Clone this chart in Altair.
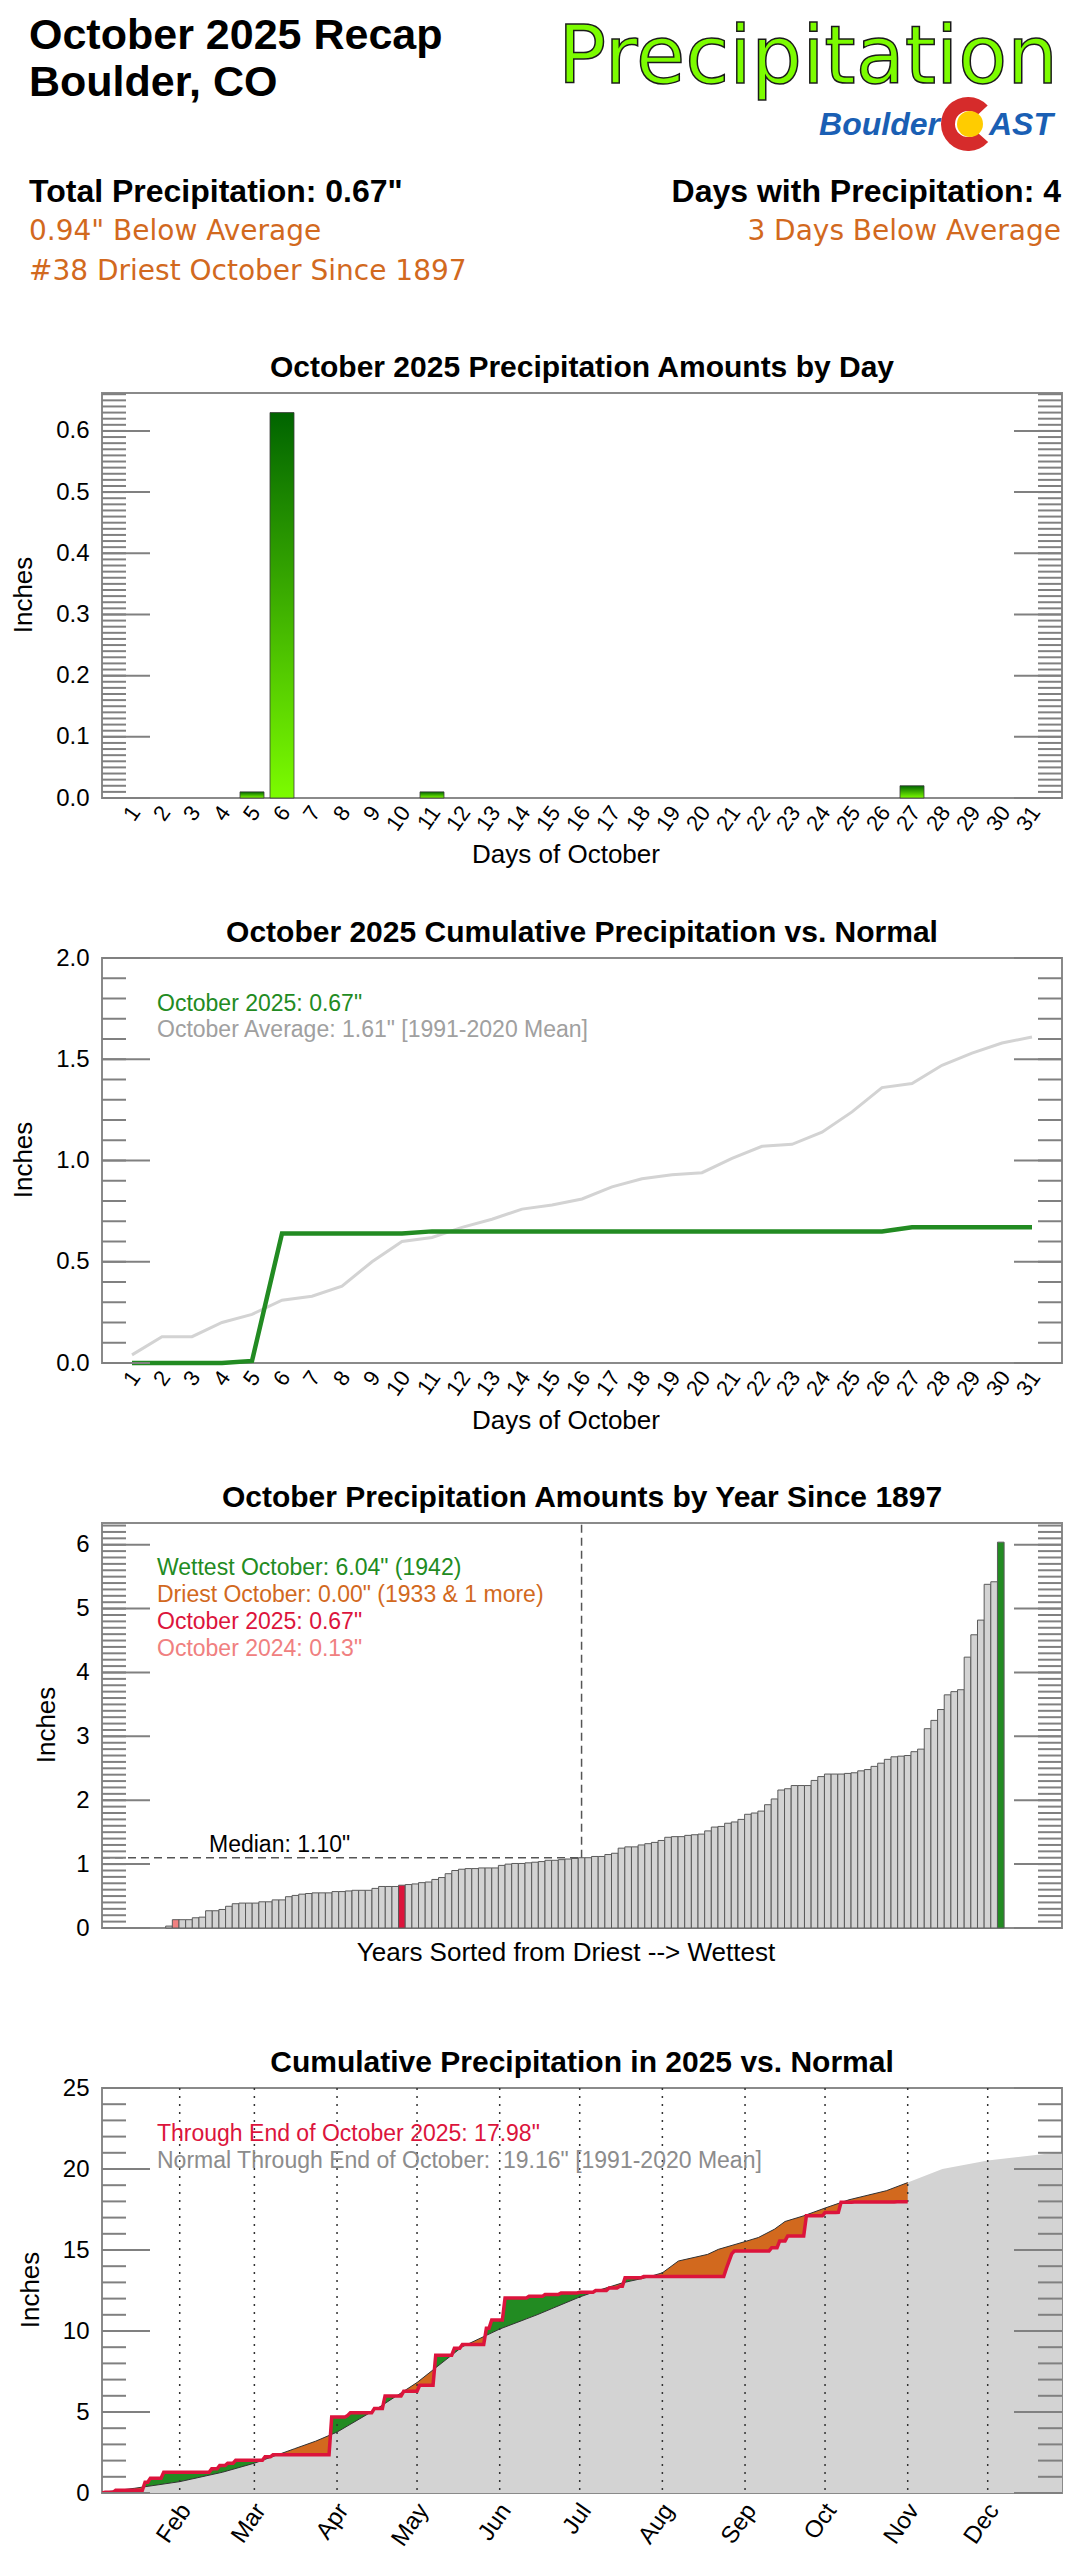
import json
import altair as alt
import numpy as np
import pandas as pd

# ---------------------------------------------------------------- text
HEAD_TITLE_1 = "October 2025 Recap"
HEAD_TITLE_2 = "Boulder, CO"
HEAD_BIG = "Precipitation"
LOGO_LEFT = "Boulder"
LOGO_RIGHT = "AST"
STAT_TOTAL = 'Total Precipitation: 0.67"'
STAT_TOTAL_DIFF = '0.94" Below Average'
STAT_RANK = "#38 Driest October Since 1897"
STAT_DAYS = "Days with Precipitation: 4"
STAT_DAYS_DIFF = "3 Days Below Average"

T1 = "October 2025 Precipitation Amounts by Day"
T2 = "October 2025 Cumulative Precipitation vs. Normal"
T3 = "October Precipitation Amounts by Year Since 1897"
T4 = "Cumulative Precipitation in 2025 vs. Normal"
YTITLE = "Inches"
XTITLE_DAYS = "Days of October"
XTITLE_YEARS = "Years Sorted from Driest --> Wettest"
C2_LEGEND = ['October 2025: 0.67"', 'October Average: 1.61" [1991-2020 Mean]']
C3_LEGEND = ['Wettest October: 6.04" (1942)', 'Driest October: 0.00" (1933 & 1 more)',
             'October 2025: 0.67"', 'October 2024: 0.13"']
MEDIAN_TEXT = 'Median: 1.10"'
C4_LEGEND = ['Through End of October 2025: 17.98"',
             'Normal Through End of October:\u00a0 19.16" [1991-2020 Mean]']

# ---------------------------------------------------------------- data
DAYS = list(range(1, 32))
OCT_2025_DAILY = [0, 0, 0, 0, 0.01, 0.63, 0, 0, 0, 0, 0.01, 0, 0, 0, 0, 0,
                  0, 0, 0, 0, 0, 0, 0, 0, 0, 0, 0.02, 0, 0, 0, 0]
OCT_NORMAL_CUM = [0.04, 0.13, 0.13, 0.20, 0.24, 0.31, 0.33, 0.38, 0.50, 0.60,
                  0.62, 0.67, 0.71, 0.76, 0.78, 0.81, 0.87, 0.91, 0.93, 0.94,
                  1.01, 1.07, 1.08, 1.14, 1.24, 1.36, 1.38, 1.47, 1.53, 1.58, 1.61]

# October totals, sorted driest -> wettest
YEAR_VALUES_SORTED = [
    0.00, 0.00, 0.03, 0.13, 0.13, 0.13, 0.16, 0.17, 0.27, 0.27,
    0.29, 0.34, 0.38, 0.39, 0.39, 0.39, 0.41, 0.41, 0.44, 0.44,
    0.49, 0.51, 0.53, 0.54, 0.55, 0.55, 0.55, 0.57, 0.57, 0.58,
    0.59, 0.59, 0.59, 0.62, 0.65, 0.65, 0.65, 0.67, 0.68, 0.69,
    0.71, 0.72, 0.76, 0.79, 0.85, 0.90, 0.92, 0.93, 0.93, 0.94,
    0.94, 0.94, 0.98, 1.00, 1.01, 1.01, 1.02, 1.03, 1.04, 1.06,
    1.06, 1.07, 1.08, 1.09, 1.10, 1.10, 1.12, 1.12, 1.15, 1.17,
    1.25, 1.27, 1.27, 1.30, 1.32, 1.34, 1.37, 1.42, 1.43, 1.43,
    1.45, 1.46, 1.47, 1.52, 1.58, 1.59, 1.64, 1.66, 1.70, 1.78,
    1.80, 1.83, 1.93, 2.02, 2.16, 2.18, 2.23, 2.23, 2.23, 2.31,
    2.37, 2.41, 2.41, 2.41, 2.42, 2.43, 2.46, 2.48, 2.53, 2.58,
    2.64, 2.68, 2.69, 2.70, 2.76, 2.80, 3.12, 3.25, 3.42, 3.65,
    3.70, 3.73, 4.24, 4.59, 4.82, 5.38, 5.42, 6.04]
RANK_2024 = 4
RANK_2025 = 38
MEDIAN_VALUE = 1.10

# 2025 daily precipitation (day of year, inches)
RAIN_DOY_2025 = [3, 7, 18, 20, 25, 43, 46, 49, 52, 63, 66, 88, 94, 95, 104, 108, 115,
                 121, 127, 134, 137, 146, 148, 153, 162, 168, 174, 181, 187, 192, 196,
                 198, 205, 236, 237, 238, 239, 253, 256, 259, 266, 273, 278, 279, 284, 300]
RAIN_AMT_2025 = [0.04, 0.13, 0.49, 0.25, 0.37, 0.21, 0.20, 0.15, 0.18, 0.21, 0.13, 2.33,
                 0.10, 0.17, 0.25, 0.78, 0.29, 0.37, 1.86, 0.42, 0.24, 1.00, 0.51, 1.36,
                 0.10, 0.11, 0.10, 0.04, 0.11, 0.16, 0.10, 0.52, 0.08, 0.50, 0.45, 0.45,
                 0.18, 0.20, 0.42, 0.31, 1.24, 0.20, 0.01, 0.63, 0.01, 0.02]
LAST_DOY_2025 = 304
# 1991-2020 normal cumulative precipitation
NORMAL_DOY = [1, 15, 32, 48, 60, 75, 83, 91, 106, 121, 138, 152, 166, 182, 190, 198,
              207, 213, 219, 230, 234, 244, 249, 255, 259, 266, 274, 283, 297, 305,
              318, 335, 363]
NORMAL_CUM = [0.0, 0.29, 0.70, 1.28, 1.84, 2.73, 3.20, 3.76, 5.21, 6.82, 9.03, 10.12,
              11.0, 12.10, 12.56, 12.97, 13.30, 13.59, 14.32, 14.73, 15.04, 15.52, 15.77,
              16.28, 16.76, 17.11, 17.59, 18.10, 18.66, 19.16, 20.0, 20.53, 21.05]
MONTH_DOY = [32, 60, 91, 121, 152, 182, 213, 244, 274, 305, 335]
MONTH_LABELS = ["Feb", "Mar", "Apr", "May", "Jun", "Jul", "Aug", "Sep", "Oct", "Nov", "Dec"]

# ---------------------------------------------------------------- style
W, H = 960, 405
HEAD_H = 213
GAP = 160
FONT = "Liberation Sans"
TICK = "#808080"
GREEN = "#228b22"
ORANGE = "#d2691e"
CRIMSON = "#dc143c"
CORAL = "#f08080"
LGRAY = "#d3d3d3"
ONE = pd.DataFrame({"k": [0]})


def txt(s, x, y, size, color="black", weight="normal", align="left",
        baseline="alphabetic", angle=None, font=FONT, italic=False, **kw):
    props = dict(text=s, fontSize=size, color=color, fontWeight=weight,
                 align=align, baseline=baseline, font=font)
    if angle:
        props["angle"] = angle
    if italic:
        props["fontStyle"] = "italic"
    props.update(kw)
    return alt.Chart(ONE).mark_text(**props).encode(x=alt.value(x), y=alt.value(y))


def ticks(major, minor, yscale, yaxis):
    layers = []
    for vals, length in ((minor, 24), (major, 48)):
        df = pd.DataFrame({"v": vals})
        for x0 in (0, W - length):
            layers.append(alt.Chart(df).mark_rule(color=TICK, strokeWidth=2).encode(
                y=alt.Y("v:Q", scale=yscale, axis=yaxis),
                x=alt.value(x0), x2=alt.value(x0 + length)))
    return layers


def y_axis(values, fmt):
    return alt.Axis(values=values, format=fmt, ticks=False, tickSize=0, domain=False,
                    grid=False, labelFontSize=24, labelFont=FONT, labelColor="black",
                    labelPadding=13, labelOverlap=False, title=None)


def x_axis(values, size, pad, off, expr=None):
    kw = dict(values=values, labelAngle=305, labelAlign="right", labelBaseline="middle",
              labelPadding=pad, labelOffset=off, ticks=False, tickSize=0, domain=False,
              grid=False, labelFontSize=size, labelFont=FONT, labelColor="black",
              labelOverlap=False, labelFlush=False, title=None)
    if expr:
        kw["labelExpr"] = expr
    return alt.Axis(**kw)


def frame_texts(title, inches_x, xtitle=None, xtitle_y=462):
    out = [txt(title, 480, -16, 30, weight="bold", align="center"),
           txt(YTITLE, inches_x, 202, 26, align="center", baseline="middle", angle=270)]
    if xtitle:
        out.append(txt(xtitle, 464, xtitle_y, 26, align="center", baseline="middle"))
    return out


# ---------------------------------------------------------------- header
header = alt.layer(
    alt.Chart(ONE).mark_rect(color="white").encode(
        x=alt.value(-94), x2=alt.value(-93), y=alt.value(-12), y2=alt.value(0)),
    txt(HEAD_TITLE_1, -73, 29, 43, weight="bold"),
    txt(HEAD_TITLE_2, -73, 76, 43, weight="bold"),
    txt(HEAD_BIG, 956, 63, 80, color="#7cfc00", align="right", font="DejaVu Sans",
        stroke="#1a1a1a", strokeWidth=1.5),
    txt(LOGO_LEFT, 838, 115, 32, color="#1a5fb4", weight="bold", align="right", italic=True),
    alt.Chart(ONE).mark_arc(radius=27, radius2=13, theta=2.3, theta2=7.1, color="#d62b2b").encode(
        x=alt.value(866), y=alt.value(104)),
    alt.Chart(ONE).mark_arc(radius=13, theta=0, theta2=6.2832, color="#ffcc00").encode(
        x=alt.value(868), y=alt.value(104)),
    txt(LOGO_RIGHT, 887, 115, 32, color="#1a5fb4", weight="bold", italic=True),
    txt(STAT_TOTAL, -73, 182, 32, weight="bold"),
    txt(STAT_TOTAL_DIFF, -73, 220, 28, color=ORANGE, font="DejaVu Sans"),
    txt(STAT_RANK, -73, 260, 28, color=ORANGE, font="DejaVu Sans"),
    txt(STAT_DAYS, 959, 182, 32, weight="bold", align="right"),
    txt(STAT_DAYS_DIFF, 959, 220, 28, color=ORANGE, align="right", font="DejaVu Sans"),
).properties(width=W, height=HEAD_H, view=alt.ViewBackground(strokeOpacity=0))

# ---------------------------------------------------------------- chart 1
Y1 = alt.Scale(domain=[0, 0.662], nice=False)
X1 = alt.Scale(domain=[0, 32], nice=False, zero=False)
Y1_AX = y_axis([round(0.1 * i, 1) for i in range(7)], ".1f")
XD_AX = x_axis(DAYS, 22, 10, 3)
grad = alt.Gradient(gradient="linear",
                    stops=[alt.GradientStop(color="#7cfc00", offset=0),
                           alt.GradientStop(color="#006400", offset=1)],
                    x1=0, x2=0, y1=1, y2=0)
df1 = pd.DataFrame({"day": DAYS, "amt": OCT_2025_DAILY})
bars1 = (alt.Chart(df1).transform_filter("datum.amt > 0")
         .transform_calculate(x0="datum.day - 0.4", x1="datum.day + 0.4")
         .mark_bar(color=grad, stroke="#3a3a3a", strokeWidth=0.8)
         .encode(x=alt.X("x0:Q", scale=X1, axis=XD_AX),
                 x2="x1:Q",
                 y=alt.Y("amt:Q", scale=Y1, axis=Y1_AX),
                 y2=alt.datum(0)))
c1 = alt.layer(
    bars1,
    *ticks([round(0.1 * i, 1) for i in range(7)], [round(0.01 * i, 2) for i in range(67)], Y1, Y1_AX),
    *frame_texts(T1, -78, XTITLE_DAYS, 462),
).properties(width=W, height=H)

# ---------------------------------------------------------------- chart 2
Y2 = alt.Scale(domain=[0, 2.0], nice=False)
Y2_AX = y_axis([0, 0.5, 1.0, 1.5, 2.0], ".1f")
df2 = pd.DataFrame({"day": DAYS, "normal": OCT_NORMAL_CUM,
                    "cum": np.cumsum(OCT_2025_DAILY)})
norm2 = alt.Chart(df2).mark_line(color=LGRAY, strokeWidth=3).encode(
    x=alt.X("day:Q", scale=X1, axis=XD_AX),
    y=alt.Y("normal:Q", scale=Y2, axis=Y2_AX))
cum2 = alt.Chart(df2).mark_line(color=GREEN, strokeWidth=4.5).encode(
    x=alt.X("day:Q", scale=X1, axis=XD_AX), y=alt.Y("cum:Q", scale=Y2, axis=Y2_AX))
c2 = alt.layer(
    norm2, cum2,
    *ticks([0, 0.5, 1.0, 1.5, 2.0], [round(0.1 * i, 1) for i in range(21)], Y2, Y2_AX),
    *frame_texts(T2, -78, XTITLE_DAYS, 463),
    txt(C2_LEGEND[0], 55, 46, 23, color=GREEN, baseline="middle"),
    txt(C2_LEGEND[1], 55, 72, 23, color="#a0a0a0", baseline="middle"),
).properties(width=W, height=H)

# ---------------------------------------------------------------- chart 3
N = len(YEAR_VALUES_SORTED)
Y3 = alt.Scale(domain=[0, 6.34], nice=False)
X3 = alt.Scale(domain=[-8.07, 136.2], nice=False, zero=False)
Y3_AX = y_axis(list(range(7)), "d")
df3 = pd.DataFrame({"idx": np.arange(N), "val": YEAR_VALUES_SORTED})
df3["kind"] = "other"
df3.loc[RANK_2024 - 1, "kind"] = "2024"
df3.loc[RANK_2025 - 1, "kind"] = "2025"
df3.loc[N - 1, "kind"] = "wettest"
bars3 = (alt.Chart(df3).transform_filter("datum.val > 0")
         .transform_calculate(x0="datum.idx - 0.5", x1="datum.idx + 0.5")
         .mark_bar(stroke="#5a5a5a", strokeWidth=1)
         .encode(x=alt.X("x0:Q", scale=X3, axis=None), x2="x1:Q",
                 y=alt.Y("val:Q", scale=Y3, axis=Y3_AX),
                 y2=alt.datum(0),
                 color=alt.Color("kind:N", legend=None,
                                 scale=alt.Scale(domain=["other", "2024", "2025", "wettest"],
                                                 range=[LGRAY, CORAL, CRIMSON, GREEN]))))
med_idx = N // 2
dfh = pd.DataFrame({"a": [X3.domain[0]], "b": [med_idx], "y": [MEDIAN_VALUE], "top": [Y3.domain[1]]})
med_h = alt.Chart(dfh).mark_rule(color="#555555", strokeWidth=1.5, strokeDash=[8, 5]).encode(
    x=alt.X("a:Q", scale=X3, axis=None), x2="b:Q", y=alt.Y("y:Q", scale=Y3, axis=Y3_AX))
med_v = alt.Chart(dfh).mark_rule(color="#555555", strokeWidth=1.5, strokeDash=[8, 5]).encode(
    x=alt.X("b:Q", scale=X3, axis=None), y=alt.Y("y:Q", scale=Y3, axis=Y3_AX), y2="top:Q")
c3 = alt.layer(
    bars3, med_h, med_v,
    *ticks(list(range(7)), [round(0.1 * i, 1) for i in range(64)], Y3, Y3_AX),
    *frame_texts(T3, -55, XTITLE_YEARS, 430),
    txt(MEDIAN_TEXT, 107, 329, 23),
    txt(C3_LEGEND[0], 55, 45, 23, color=GREEN, baseline="middle"),
    txt(C3_LEGEND[1], 55, 72, 23, color=ORANGE, baseline="middle"),
    txt(C3_LEGEND[2], 55, 99, 23, color=CRIMSON, baseline="middle"),
    txt(C3_LEGEND[3], 55, 126, 23, color=CORAL, baseline="middle"),
).properties(width=W, height=H)

# ---------------------------------------------------------------- chart 4
Y4 = alt.Scale(domain=[0, 25], nice=False)
X4 = alt.Scale(domain=[2.86, 362.86], nice=False, zero=False)
Y4_AX = y_axis([0, 5, 10, 15, 20, 25], "d")
month_expr = "%s[indexof(%s, datum.value)]" % (json.dumps(MONTH_LABELS), json.dumps(MONTH_DOY))
XM_AX = x_axis(MONTH_DOY, 24, 13, 6, month_expr)
daily = np.zeros(LAST_DOY_2025 + 1)
for d, a in zip(RAIN_DOY_2025, RAIN_AMT_2025):
    daily[d] += a
cum = np.cumsum(daily)                      # cum[d] = total through end of day d
xs = np.arange(1, LAST_DOY_2025 + 2)        # end of day d plotted at d + 1
actual = cum[xs - 1]
normal_on_days = np.interp(xs, NORMAL_DOY, NORMAL_CUM)
df4 = pd.DataFrame({"x": xs, "actual": actual, "normal": normal_on_days,
                    "hi": np.maximum(actual, normal_on_days),
                    "lo": np.minimum(actual, normal_on_days)})
dfN = pd.DataFrame({"x": NORMAL_DOY, "n": NORMAL_CUM})
dfM = pd.DataFrame({"doy": MONTH_DOY})

X4E = alt.X("x:Q", scale=X4, axis=XM_AX)
gray4 = alt.Chart(dfN).mark_area(color=LGRAY, clip=True).encode(
    x=X4E, y=alt.Y("n:Q", scale=Y4, axis=Y4_AX), y2=alt.datum(0))
green4 = alt.Chart(df4).mark_area(color=GREEN, clip=True).encode(
    x=X4E, y=alt.Y("normal:Q", scale=Y4, axis=Y4_AX), y2="hi:Q")
orange4 = alt.Chart(df4).mark_area(color=ORANGE, clip=True).encode(
    x=X4E, y=alt.Y("lo:Q", scale=Y4, axis=Y4_AX), y2="normal:Q")
nline4 = (alt.Chart(dfN).transform_filter("datum.x <= %d" % (LAST_DOY_2025 + 1))
          .mark_line(color="#333333", strokeWidth=1, clip=True)
          .encode(x=X4E, y=alt.Y("n:Q", scale=Y4, axis=Y4_AX)))
months4 = alt.Chart(dfM).mark_rule(color="#333333", strokeWidth=1.5, strokeDash=[2, 6]).encode(
    x=alt.X("doy:Q", scale=X4, axis=XM_AX), y=alt.value(0), y2=alt.value(H))
red4 = alt.Chart(df4).mark_line(color=CRIMSON, strokeWidth=3.5, clip=True).encode(
    x=X4E, y=alt.Y("actual:Q", scale=Y4, axis=Y4_AX))
c4 = alt.layer(
    gray4, green4, orange4, nline4, months4, red4,
    *ticks([0, 5, 10, 15, 20, 25], list(range(26)), Y4, Y4_AX),
    *frame_texts(T4, -71),
    txt(C4_LEGEND[0], 55, 46, 23, color=CRIMSON, baseline="middle"),
    txt(C4_LEGEND[1], 55, 73, 23, color="#8c8c8c", baseline="middle"),
).properties(width=W, height=H)

chart = (alt.vconcat(header, c1, c2, c3, c4, spacing=GAP, bounds="flush")
         .properties(padding=0)
         .configure_view(stroke="#8a8a8a", strokeWidth=2)
         .configure_axis(labelFont=FONT))

chart.save("out.html", embed_options={"renderer": "svg", "actions": False})
